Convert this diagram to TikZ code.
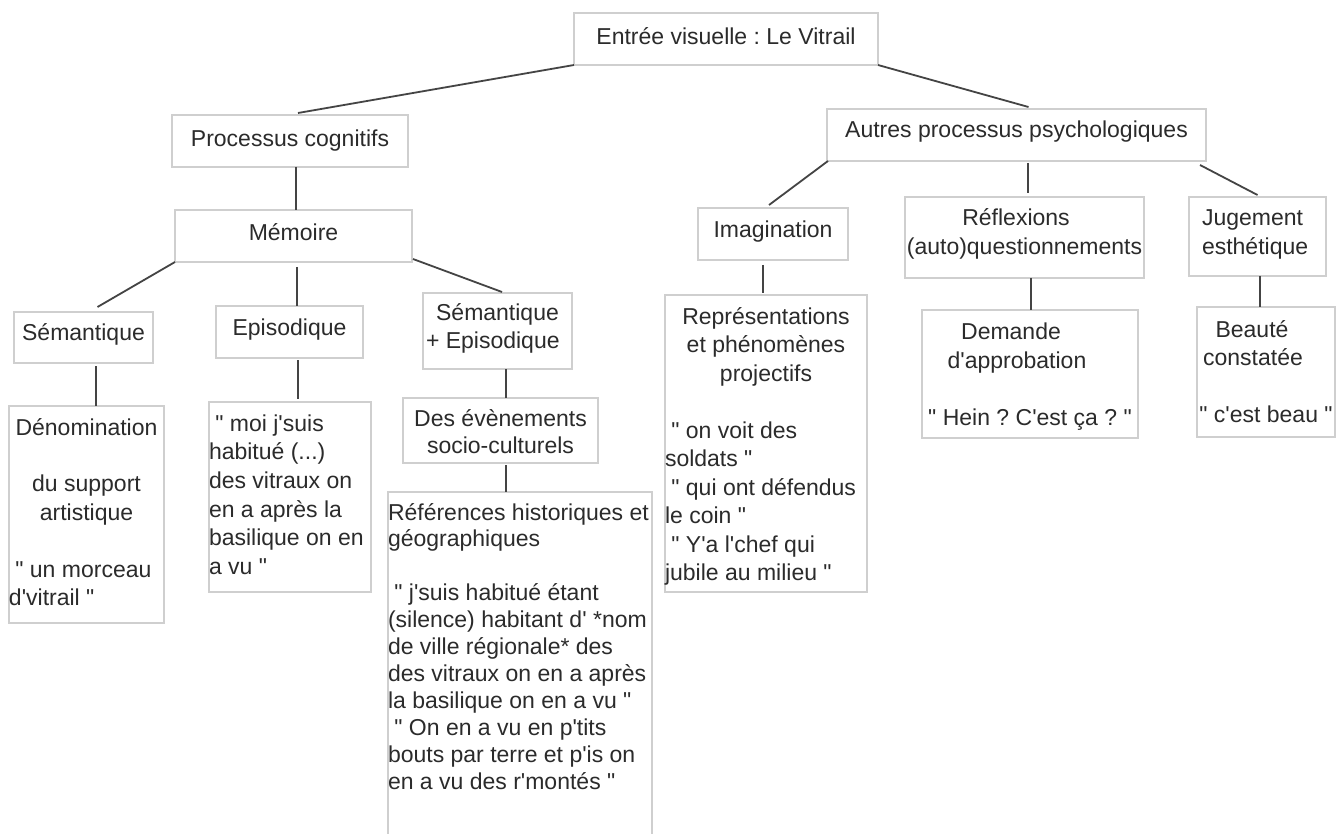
\documentclass[tikz,border=0pt]{standalone}
\usepackage{fontspec}
\newfontfamily\lib{Liberation Sans}
\usetikzlibrary{calc}
\definecolor{bordergray}{HTML}{CFCFCF}
\definecolor{linegray}{HTML}{444444}
\definecolor{txtgray}{HTML}{2B2B2B}
\frenchspacing
\newcommand\strutA{\vrule height 20pt depth 0pt width 0pt}
\newcommand\Cl[1]{\hbox to\hsize{\hss\strutA #1\hss}}
\newcommand\Ll[1]{\hbox to\hsize{\strutA #1\hss}}
\newcommand\Bl{\hbox{\strutA}}
\newcommand\bx[5]{\parbox[c][#2pt][t]{#1pt}{\frenchspacing\baselineskip=#4pt\relax\kern#3pt\relax #5}}
\begin{document}
\begin{tikzpicture}[x=1pt,y=-1pt,
  box/.style={draw=bordergray, line width=2pt, inner sep=0pt, outer sep=0pt, anchor=north west, text=txtgray, font=\lib\frenchspacing\fontsize{23}{28.5}\selectfont},
  link/.style={draw=linegray, line width=1.8pt}]
\path[fill=white,use as bounding box] (0,0) rectangle (1336,834);

\node[box] (root) at (574,13) {\bx{304}{52}{12}{28.5}{\Cl{Entrée visuelle : Le Vitrail}}};
\node[box] (proc) at (172,115) {\bx{236}{52}{12}{28.5}{\Cl{Processus cognitifs}}};
\node[box] (autres) at (827,109) {\bx{379}{52}{9}{28.5}{\Cl{Autres processus psychologiques}}};
\node[box] (memoire) at (175,210) {\bx{237}{52}{11}{28.5}{\Cl{Mémoire}}};
\node[box] (imag) at (698,208) {\bx{150}{52}{10}{28.5}{\Cl{Imagination}}};
\node[box] (refl) at (905,197) {\bx{239}{81}{9}{28.5}{\Cl{Réflexions\kern17pt}\Cl{(auto)questionnements}}};
\node[box] (jug) at (1189,197) {\bx{137}{79}{9}{28.5}{\Ll{\kern13pt Jugement}\Ll{\kern13pt esthétique}}};
\node[box] (sem) at (14,312) {\bx{139}{51}{9}{28.5}{\Cl{Sémantique}}};
\node[box] (epi) at (216,306) {\bx{147}{52}{10}{28.5}{\Cl{Episodique}}};
\node[box] (semepi) at (423,293) {\bx{149}{76}{8}{28}{\Cl{Sémantique}\Ll{\kern3pt + Episodique}}};
\node[box] (denom) at (9,406) {\bx{155}{217}{9}{28.4}{%
  \Cl{Dénomination}\Bl\Cl{du support}\Cl{artistique}\Bl
  \Ll{\ " un morceau}\Ll{d'vitrail "}}};
\node[box] (epiq) at (209,402) {\bx{162}{190}{9}{28.7}{%
  \Ll{\ " moi j'suis}\Ll{habitué (...)}\Ll{des vitraux on}\Ll{en a après la}\Ll{basilique on en}\Ll{a vu "}}};
\node[box] (evt) at (403,398) {\bx{195}{65}{8}{27}{\Cl{Des évènements}\Cl{socio-culturels}}};
\node[box] (refs) at (388,492) {\bx{264}{370}{8}{26.9}{%
  \Ll{Références historiques et}\Ll{géographiques}\Bl
  \Ll{\ " j'suis habitué étant}\Ll{(silence) habitant d' *nom}\Ll{de ville régionale* des}
  \Ll{des vitraux on en a après}\Ll{la basilique on en a vu "}\Ll{\ " On en a vu en p'tits}
  \Ll{bouts par terre et p'is on}\Ll{en a vu des r'montés "}}};
\node[box] (repr) at (665,295) {\bx{202}{297}{9}{28.5}{%
  \Cl{Représentations}\Cl{et phénomènes}\Cl{projectifs}\Bl
  \Ll{\ " on voit des}\Ll{soldats "}\Ll{\ " qui ont défendus}\Ll{le coin "}
  \Ll{\ " Y'a l'chef qui}\Ll{jubile au milieu "}}};
\node[box] (dem) at (922,310) {\bx{216}{128}{10}{28.5}{%
  \Cl{Demande\kern38pt}\Cl{d'approbation\kern26pt}\Bl\Cl{" Hein ? C'est ça ? "}}};
\node[box] (beau) at (1197,307) {\bx{138}{130}{10}{28.5}{%
  \Cl{Beauté\kern28pt}\Cl{constatée\kern26pt}\Bl\Cl{" c'est beau "}}};

\draw[link] (root.south west) -- ($(proc.north)+(8,-2)$);
\draw[link] (root.south east) -- ($(autres.north)+(12,-2)$);
\draw[link] ($(proc.south)+(6,0)$) -- ($(memoire.north)+(2.5,0)$);
\draw[link] ($(autres.south west)+(1,0)$) -- ($(imag.north)+(-4,-3)$);
\draw[link] ($(autres.south)+(11.5,2)$) -- ($(refl.north)+(3.5,-4)$);
\draw[link] ($(autres.south east)+(-6,4)$) -- ($(jug.north)+(0,-2)$);
\draw[link] (memoire.south west) -- ($(sem.north)+(14,-5)$);
\draw[link] ($(memoire.south)+(3.5,5)$) -- ($(epi.north)+(7.5,0)$);
\draw[link] ($(memoire.south east)+(1,-3)$) -- ($(semepi.north)+(4.5,-1)$);
\draw[link] ($(sem.south)+(12.5,3)$) -- ($(denom.north)+(9.5,0)$);
\draw[link] ($(epi.south)+(8.5,2)$) -- ($(epiq.north)+(8,-3)$);
\draw[link] ($(semepi.south)+(8.5,0)$) -- ($(evt.north)+(5.5,0)$);
\draw[link] ($(evt.south)+(5.5,2)$) -- ($(refs.north)+(-14,0)$);
\draw[link] ($(imag.south)+(-10,5)$) -- ($(repr.north)+(-3,-2)$);
\draw[link] ($(refl.south)+(6.5,0)$) -- ($(dem.north)+(1,0)$);
\draw[link] ($(jug.south)+(2.5,0)$) -- ($(beau.north)+(-6,0)$);
\end{tikzpicture}
\end{document}
